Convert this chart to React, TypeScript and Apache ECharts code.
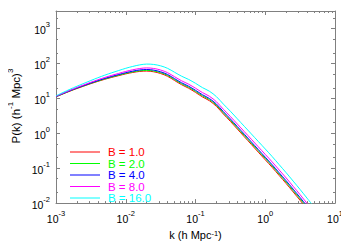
import React, { useEffect, useRef } from "react";
import * as echarts from "echarts";

// wavenumber k (h Mpc^-1)
const kValues = [
  0.001, 0.001259, 0.001585, 0.001995, 0.002512, 0.003162, 0.003981, 0.005012, 0.00631, 0.007943,
  0.01, 0.01259, 0.01585, 0.01995, 0.02512, 0.03162, 0.03981, 0.05012, 0.0631, 0.07943,
  0.1, 0.1259, 0.1585, 0.1995, 0.2512, 0.3162, 0.3981, 0.5012, 0.631, 0.7943,
  1, 1.259, 1.585, 1.995, 2.512, 3.162, 3.981, 5.012,
];

// P(k) (h^-1 Mpc)^3 for each B
const pB1 = [
  10.96, 13.34, 16.03, 19.05, 22.39, 26.3, 30.55, 35.08, 39.81, 44.67,
  50.12, 54.95, 58.88, 60.26, 57.54, 51.29, 42.66, 32.36, 24.55, 19.5,
  14.79, 10.96, 8.51, 5.89, 3.55, 2.19, 1.318, 0.794, 0.479, 0.288,
  0.174, 0.105, 0.0617, 0.0363, 0.0209, 0.012, 0.00676, 0.0038,
];
const pB2 = [
  11.09, 13.52, 16.29, 19.41, 22.86, 26.92, 31.33, 36.06, 41.02, 46.13,
  51.88, 57.15, 61.38, 63.1, 60.53, 54.33, 45.29, 34.43, 26.18, 20.84,
  15.85, 11.78, 9.16, 6.35, 3.84, 2.37, 1.432, 0.865, 0.522, 0.316,
  0.191, 0.115, 0.0676, 0.0398, 0.0229, 0.0132, 0.00741, 0.00417,
];
const pB4 = [
  11.22, 13.71, 16.56, 19.77, 23.33, 27.54, 32.21, 37.24, 42.56, 48.08,
  54.33, 59.98, 64.86, 66.83, 64.27, 57.54, 48.08, 36.64, 27.93, 22.28,
  16.98, 12.65, 9.86, 6.85, 4.15, 2.57, 1.552, 0.938, 0.566, 0.342,
  0.2065, 0.1247, 0.0736, 0.0435, 0.0251, 0.01445, 0.00813, 0.00457,
];
const pB8 = [
  11.35, 13.96, 16.98, 20.42, 24.27, 28.84, 33.96, 39.54, 45.5, 51.76,
  58.88, 65.61, 71.29, 74.13, 71.61, 64.57, 54.2, 41.5, 31.77, 25.47,
  19.5, 14.59, 11.43, 7.98, 4.85, 3.02, 1.832, 1.112, 0.675, 0.409,
  0.248, 0.1503, 0.0887, 0.0524, 0.0302, 0.01738, 0.00977, 0.0055,
];
const pB16 = [
  11.75, 14.69, 18.16, 22.18, 26.79, 32.36, 38.82, 46.03, 53.95, 62.52,
  72.44, 81.85, 90.57, 95.5, 93.33, 85.11, 72.11, 55.72, 43.05, 34.83,
  26.92, 20.23, 15.92, 11.17, 6.82, 4.27, 2.59, 1.578, 0.959, 0.583,
  0.355, 0.214, 0.1259, 0.0741, 0.0427, 0.0245, 0.0138, 0.00776,
];

const seriesNames = ["B = 1.0", "B = 2.0", "B = 4.0", "B = 8.0", "B = 16.0"];
const seriesValues = [pB1, pB2, pB4, pB8, pB16];
const seriesColors = ["#ff0000", "#00ff00", "#0000ff", "#ff00ff", "#00ffff"];

// axis decades (exponents of 10)
const xDecades = [-3, -2, -1, 0, 1];
const yDecades = [-2, -1, 0, 1, 2, 3];
const xMinorMultipliers = [2, 3, 4, 5, 6, 7, 8, 9];
const yMinorMultipliers = [2, 5];
const xRange = [-3, 1];
const yRange = [-2, 3.5];

const FONT = "Liberation Sans, Arial, Helvetica, sans-serif";
const GRAY = "#808080";

function minorTicks(decades: number[], mults: number[], range: number[]) {
  const out: number[] = [];
  for (const d of decades) {
    for (const m of mults) {
      const v = d + Math.log10(m);
      if (v > range[0] && v < range[1]) out.push(v);
    }
  }
  return out;
}

const labelRich = {
  b: { fontSize: 10.5, fontFamily: FONT, color: "#000", verticalAlign: "bottom", lineHeight: 15 },
  s: { fontSize: 7.5, fontFamily: FONT, color: "#000", verticalAlign: "top", lineHeight: 9 },
};

export default function App() {
  const ref = useRef<HTMLDivElement>(null);
  useEffect(() => {
    if (!ref.current) return;
    const chart = echarts.init(ref.current, undefined, { renderer: "svg" });
    const xMinor = minorTicks(xDecades, xMinorMultipliers, xRange);
    const yMinor = minorTicks(yDecades, yMinorMultipliers, yRange);
    const fmt = (v: number) => `{b|10}{s|${Math.round(v)}}`;

    const baseX = (position: string, major: boolean, withLabels: boolean) => ({
      type: "value",
      position,
      min: xRange[0],
      max: xRange[1],
      interval: 1,
      splitLine: { show: false },
      axisLine: { show: major, onZero: false, lineStyle: { color: GRAY, width: 1 } },
      axisTick: {
        show: true,
        inside: true,
        length: major ? 4 : 2,
        lineStyle: { color: GRAY },
        customValues: major ? xDecades : xMinor,
      },
      axisLabel: withLabels
        ? { show: true, formatter: fmt, rich: labelRich, margin: 6, customValues: xDecades }
        : { show: false },
    });
    const baseY = (position: string, major: boolean, withLabels: boolean) => ({
      type: "value",
      position,
      min: yRange[0],
      max: yRange[1],
      splitLine: { show: false },
      axisLine: { show: major, onZero: false, lineStyle: { color: GRAY, width: 1 } },
      axisTick: {
        show: true,
        inside: true,
        length: major ? 4 : 2,
        lineStyle: { color: GRAY },
        customValues: major ? yDecades : yMinor,
      },
      axisLabel: withLabels
        ? { show: true, formatter: fmt, rich: labelRich, margin: 6, customValues: yDecades }
        : { show: false },
    });

    const xAxes: any[] = [
      {
        ...baseX("bottom", true, true),
        name: "k (h Mpc{s|-1})",
        nameLocation: "middle",
        nameGap: 24,
        nameTextStyle: {
          fontSize: 11,
          fontFamily: FONT,
          color: "#000",
          rich: {
            s: { fontSize: 7.5, fontFamily: FONT, color: "#000", verticalAlign: "top", lineHeight: 9 },
          },
        },
      },
      baseX("bottom", false, false),
      baseX("top", true, false),
      baseX("top", false, false),
    ];
    const yAxes: any[] = [
      baseY("left", true, true),
      baseY("left", false, false),
      baseY("right", true, false),
      baseY("right", false, false),
    ];

    const series = seriesNames.map((name, si) => ({
      name,
      type: "line",
      xAxisIndex: 0,
      yAxisIndex: 0,
      showSymbol: false,
      symbol: "none",
      smooth: 0.35,
      clip: true,
      lineStyle: { color: seriesColors[si], width: 1 },
      itemStyle: { color: seriesColors[si] },
      data: kValues.map((k, i) => [Math.log10(k), Math.log10(seriesValues[si][i])]),
    }));

    chart.setOption({
      animation: false,
      backgroundColor: "#fff",
      grid: { left: 56, right: 14, top: 11, bottom: 36, containLabel: false },
      xAxis: xAxes,
      yAxis: yAxes,
      graphic: [
        {
          type: "text",
          x: 14,
          y: 106,
          rotation: Math.PI / 2,
          style: {
            text: "{m|P(k) (h}{s|-1}{m| Mpc)}{s|3}",
            align: "center",
            verticalAlign: "middle",
            rich: {
              m: { fontSize: 11.5, fontFamily: FONT, fill: "#000", verticalAlign: "bottom", lineHeight: 15 },
              s: { fontSize: 8, fontFamily: FONT, fill: "#000", verticalAlign: "top", lineHeight: 9 },
            },
          },
        },
      ],
      legend: {
        orient: "vertical",
        left: 70,
        top: 146,
        icon: "rect",
        itemWidth: 30,
        itemHeight: 1,
        itemGap: -0.5,
        padding: 0,
        textStyle: { fontSize: 11.5, fontFamily: FONT, lineHeight: 12, padding: [0, 0, 0, 3] },
        data: seriesNames.map((n, i) => ({
          name: n,
          itemStyle: { color: seriesColors[i] },
          textStyle: { color: seriesColors[i], fontSize: 11.5, fontFamily: FONT, lineHeight: 12 },
        })),
      },
      series,
    });
    return () => chart.dispose();
  }, []);
  return <div ref={ref} style={{ width: 349, height: 245, marginLeft: -8, marginTop: -8 }} />;
}
